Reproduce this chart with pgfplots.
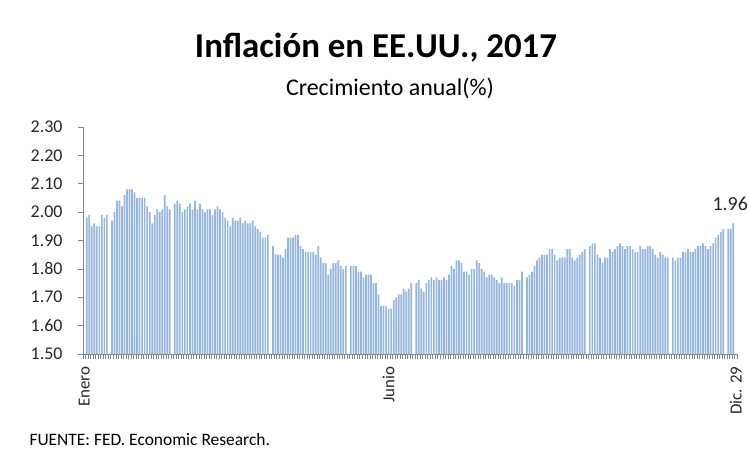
\documentclass[border=0pt]{standalone}
\usepackage{pgfplots}
\pgfplotsset{compat=1.18}
\usepackage{pgfplotstable}
\usepackage{fontspec}
\setmainfont{Carlito}

\definecolor{barfill}{RGB}{150,182,222}
\definecolor{axgray}{RGB}{134,134,134}

% T10YIE, dias habiles 2017 (indice 0 = 2 ene); nan = feriado
\pgfplotstableread{
i y
0 nan
1 1.98
2 1.99
3 1.95
4 1.96
5 1.95
6 1.95
7 1.99
8 1.98
9 1.99
10 nan
11 1.97
12 2.00
13 2.04
14 2.04
15 2.02
16 2.06
17 2.08
18 2.08
19 2.08
20 2.07
21 2.05
22 2.05
23 2.05
24 2.05
25 2.02
26 2.00
27 1.96
28 1.99
29 2.01
30 2.00
31 2.01
32 2.06
33 2.02
34 2.01
35 nan
36 2.03
37 2.04
38 2.03
39 2.00
40 2.01
41 2.02
42 2.03
43 2.01
44 2.04
45 2.01
46 2.03
47 2.01
48 2.00
49 2.01
50 2.01
51 1.99
52 2.01
53 2.02
54 2.01
55 2.00
56 1.98
57 1.97
58 1.95
59 1.98
60 1.97
61 1.97
62 1.98
63 1.96
64 1.97
65 1.96
66 1.96
67 1.97
68 1.95
69 1.94
70 1.93
71 1.91
72 1.91
73 1.92
74 nan
75 1.88
76 1.85
77 1.85
78 1.85
79 1.84
80 1.87
81 1.91
82 1.91
83 1.91
84 1.92
85 1.92
86 1.88
87 1.87
88 1.86
89 1.86
90 1.86
91 1.86
92 1.85
93 1.88
94 1.84
95 1.82
96 1.82
97 1.78
98 1.80
99 1.82
100 1.82
101 1.83
102 1.81
103 1.80
104 1.81
105 nan
106 1.81
107 1.81
108 1.81
109 1.79
110 1.79
111 1.77
112 1.78
113 1.78
114 1.78
115 1.75
116 1.75
117 1.71
118 1.67
119 1.67
120 1.67
121 1.66
122 1.66
123 1.69
124 1.70
125 1.71
126 1.71
127 1.73
128 1.72
129 1.73
130 1.75
131 nan
132 1.75
133 1.76
134 1.73
135 1.72
136 1.75
137 1.76
138 1.77
139 1.76
140 1.77
141 1.76
142 1.76
143 1.77
144 1.76
145 1.78
146 1.81
147 1.80
148 1.83
149 1.83
150 1.82
151 1.79
152 1.79
153 1.78
154 1.80
155 1.80
156 1.83
157 1.82
158 1.80
159 1.79
160 1.77
161 1.78
162 1.78
163 1.77
164 1.76
165 1.75
166 1.77
167 1.75
168 1.75
169 1.75
170 1.75
171 1.74
172 1.76
173 1.76
174 1.79
175 nan
176 1.77
177 1.78
178 1.79
179 1.81
180 1.83
181 1.84
182 1.85
183 1.85
184 1.85
185 1.87
186 1.87
187 1.85
188 1.83
189 1.84
190 1.84
191 1.84
192 1.87
193 1.87
194 1.84
195 1.83
196 1.84
197 1.85
198 1.86
199 1.87
200 nan
201 1.88
202 1.89
203 1.89
204 1.85
205 1.84
206 1.82
207 1.84
208 1.84
209 1.87
210 1.86
211 1.87
212 1.88
213 1.89
214 1.88
215 1.87
216 1.88
217 1.88
218 1.87
219 1.86
220 1.86
221 1.88
222 1.87
223 1.87
224 1.88
225 1.88
226 1.87
227 1.85
228 1.84
229 1.86
230 1.85
231 1.84
232 1.84
233 nan
234 1.84
235 1.83
236 1.84
237 1.84
238 1.86
239 1.86
240 1.87
241 1.86
242 1.86
243 1.87
244 1.88
245 1.88
246 1.89
247 1.88
248 1.87
249 1.88
250 1.89
251 1.91
252 1.92
253 1.93
254 1.94
255 nan
256 1.94
257 1.94
258 1.96
259 nan
}\inflacion

\begin{document}
\begin{tikzpicture}
\useasboundingbox (0,0) rectangle (749bp,461bp);
\begin{axis}[
    at={(83bp,107bp)}, anchor=south west,
    scale only axis, width=654bp, height=227bp,
    xmin=-0.5, xmax=259.5,
    ymin=1.5, ymax=2.3,
    ytick={1.5,1.6,...,2.3},
    /pgf/number format/fixed,
    /pgf/number format/fixed zerofill,
    /pgf/number format/precision=2,
    /pgf/number format/assume math mode=true,
    yticklabel style={font=\fontsize{18}{20}\selectfont, text=black!85, xshift=-12bp},
    xtick={0,121,259},
    xticklabels={Enero,Junio,Dic. 29},
    xticklabel style={rotate=90, anchor=east, font=\fontsize{17}{19}\selectfont, text=black!85, xshift=-4bp},
    major x tick style={draw=none},
    minor xtick={-0.5,0.5,...,259.5},
    minor tick length=5bp,
    major tick length=5bp,
    tick align=outside,
    axis x line*=bottom, axis y line*=left,
    axis line style={axgray, line width=0.8bp},
    tick style={axgray, line width=0.6bp},
    minor tick style={axgray, line width=0.4bp},
    unbounded coords=discard,
    clip=false,
]
\addplot[ybar, bar width=1.7bp, bar shift=0pt, fill=barfill, draw=none]
    table[x=i, y=y] {\inflacion};
\node[font=\fontsize{20}{22}\selectfont, text=black!85, xshift=-3bp] at (axis cs:258,2.03) {1.96};
\end{axis}
\node[font=\fontsize{35}{40}\selectfont\bfseries] at (376bp,413bp) {Inflación en EE.UU., 2017};
\node[font=\fontsize{24}{28}\selectfont] at (390bp,373bp) {Crecimiento anual(\%)};
\node[anchor=west, font=\fontsize{17.5}{20}\selectfont] at (26bp,21bp) {FUENTE: FED. Economic Research.};
\end{tikzpicture}
\end{document}
